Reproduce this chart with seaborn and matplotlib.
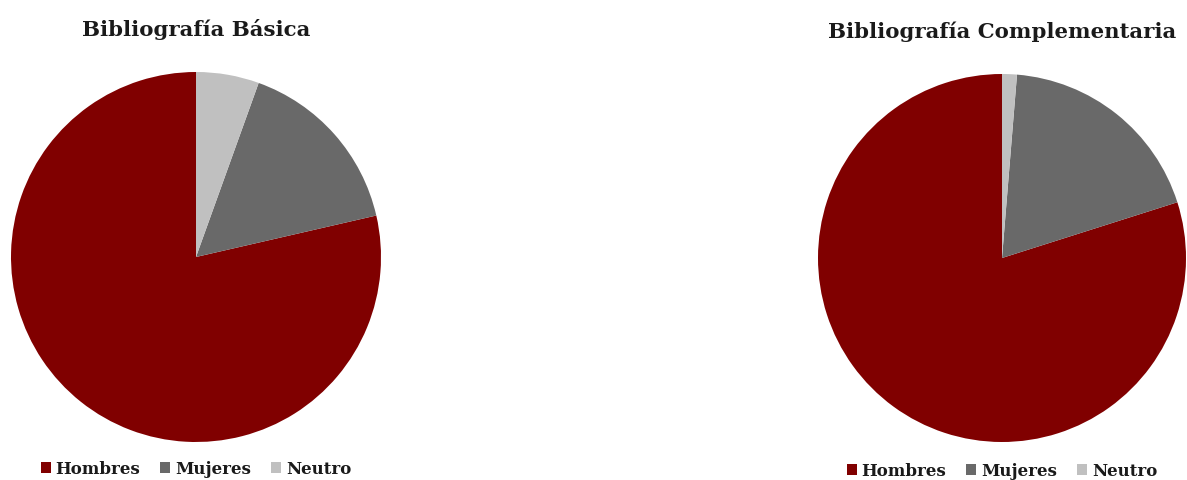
import matplotlib
matplotlib.use("Agg")
import matplotlib.pyplot as plt
import seaborn as sns

# Data (percentages)
categorias = ["Hombres", "Mujeres", "Neutro"]
basica = [78.6, 15.9, 5.5]
complementaria = [79.9, 18.8, 1.3]
titulos = ["Bibliografía Básica", "Bibliografía Complementaria"]

sns.set_theme(style="white")
plt.rcParams['font.family'] = ['DejaVu Serif', 'Liberation Serif']
colores = ["#800000", "#696969", "#c0c0c0"]

W, H = 1187, 481
fig = plt.figure(figsize=(W / 100, H / 100), dpi=100)

# pie centres / radius in pixels
paneles = [
    {"cx": 196, "cy": 258, "r": 185, "datos": basica, "tit_y": 30, "leg_y": 470},
    {"cx": 1002, "cy": 259, "r": 184, "datos": complementaria, "tit_y": 32, "leg_y": 472},
]

for p, titulo in zip(paneles, titulos):
    cx, cy, r = p["cx"], p["cy"], p["r"]
    ax = fig.add_axes([(cx - r) / W, (H - cy - r) / H, 2 * r / W, 2 * r / H])
    wedges, _ = ax.pie(p["datos"], colors=colores, startangle=90, counterclock=True,
                       radius=1, wedgeprops=dict(linewidth=0))
    ax.set_xlim(-1, 1)
    ax.set_ylim(-1, 1)
    ax.set_aspect("equal")
    ax.axis("off")

    fig.text(cx / W, 1 - p["tit_y"] / H, titulo, ha="center", va="center",
             fontsize=15.3, fontweight="bold", color="#1a1a1a")

    fig.legend(wedges, categorias, loc="center", ncol=3, frameon=False,
               bbox_to_anchor=(cx / W, 1 - p["leg_y"] / H),
               prop=dict(size=12, weight="bold"),
               handlelength=0.6, handleheight=0.6, handletextpad=0.3,
               columnspacing=1.2, labelcolor="#1a1a1a")

fig.savefig("out.png", dpi=100, facecolor="white")
